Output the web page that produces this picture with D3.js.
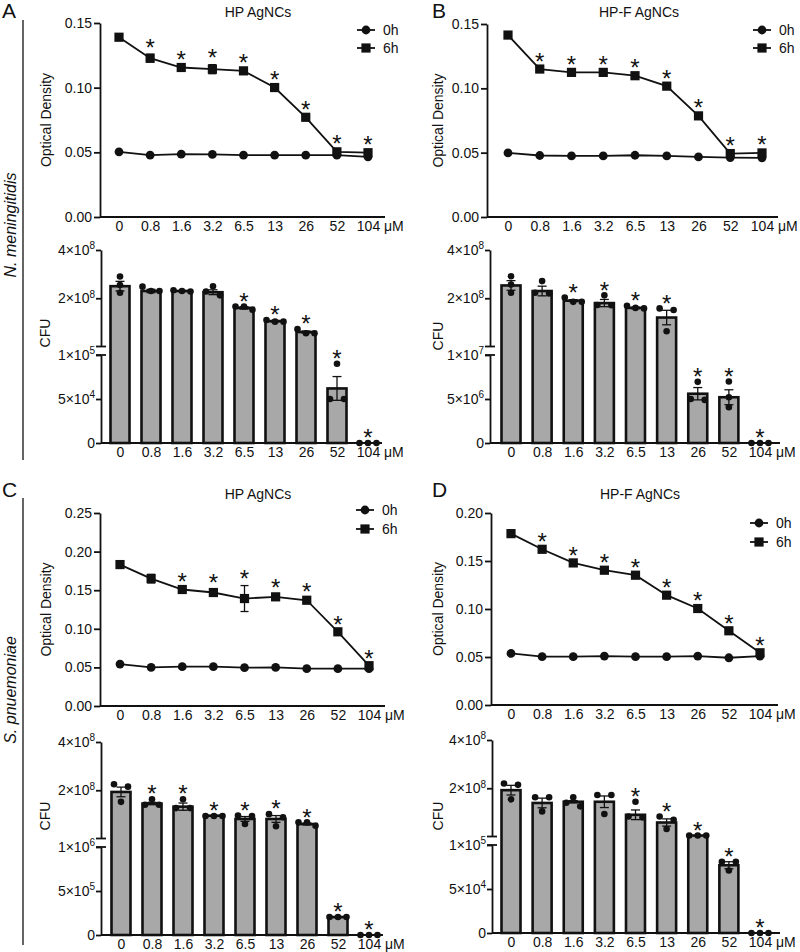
<!DOCTYPE html>
<html><head><meta charset="utf-8">
<script src="https://cdn.jsdelivr.net/npm/d3@7"></script>
<style>
body{margin:0;background:#fff}
svg{display:block}
text{font-family:"Liberation Sans",Arial,sans-serif;fill:#111}
</style>
</head><body>
<svg id="c" width="800" height="952"></svg>
<script>
// ---------- DATA ----------
const concentrations = ["0","0.8","1.6","3.2","6.5","13","26","52","104"];
const seriesNames = ["0h","6h"];

// Optical density (line charts)
const odA_0h = [0.0504,0.0478,0.0486,0.0484,0.0478,0.0478,0.0478,0.0478,0.0465];
const odA_6h = [0.1390,0.1228,0.1156,0.1143,0.1130,0.1001,0.0771,0.0504,0.0497];
const semA_6h = [0.001,0.003,0.0012,0.0035,0.0012,0.001,0.001,0.001,0.001];
const starsA_od = [0,1,1,1,1,1,1,1,1];

const odB_0h = [0.0498,0.0478,0.0475,0.0475,0.0480,0.0475,0.0467,0.0462,0.0460];
const odB_6h = [0.1414,0.1150,0.1124,0.1124,0.1098,0.1017,0.0786,0.0493,0.0498];
const semB_6h = [0.001,0.001,0.001,0.001,0.001,0.001,0.001,0.001,0.001];
const starsB_od = [0,1,1,1,1,1,1,1,1];

const odC_0h = [0.0543,0.0500,0.0509,0.0509,0.0496,0.0500,0.0483,0.0483,0.0483];
const odC_6h = [0.1832,0.1650,0.1509,0.1470,0.1392,0.1414,0.1370,0.0961,0.0522];
const semC_6h = [0.0035,0.0056,0.002,0.004,0.0168,0.003,0.002,0.001,0.001];
const starsC_od = [0,0,1,1,1,1,1,1,1];

const odD_0h = [0.0537,0.0503,0.0503,0.0510,0.0503,0.0503,0.0510,0.0492,0.0510];
const odD_6h = [0.1785,0.1622,0.1480,0.1404,0.1352,0.1144,0.1005,0.0773,0.0544];
const semD_6h = [0.001,0.001,0.001,0.001,0.001,0.001,0.001,0.001,0.001];
const starsD_od = [0,1,1,1,1,1,1,1,1];

const odMaxA = 0.15, odMaxB = 0.15, odMaxC = 0.25, odMaxD = 0.20;

// CFU (bar charts, broken axis)
const cfuA = [2.5e8,2.3e8,2.3e8,2.25e8,1.6e8,1.05e8,0.6e8,6.2e4,0];
const cfuSemA = [0.2e8,0.07e8,0.02e8,0.1e8,0.05e8,0.03e8,0.04e8,1.35e4,0];
const cfuDotsA = [[2.9e8,2.55e8,2.23e8],[2.48e8,2.3e8,2.3e8],[2.33e8,2.28e8,2.3e8],[2.5e8,2.12e8,2.28e8],[1.52e8,1.66e8,1.66e8],[1.1e8,1.03e8,1.03e8],[0.72e8,0.55e8,0.55e8],[9e4,5e4,5e4],[0,0,0]];
const cfuStarsA = [0,0,0,0,1,1,1,1,1];
const cfuBreakA = 1e5;

const cfuB = [2.53e8,2.3e8,1.9e8,1.8e8,1.6e8,1.2e8,5.6e6,5.2e6,0];
const cfuSemB = [0.2e8,0.2e8,0.04e8,0.15e8,0.03e8,0.3e8,0.7e6,0.85e6,0];
const cfuDotsB = [[2.91e8,2.57e8,2.23e8],[2.71e8,2.23e8,2.2e8],[2.03e8,1.85e8,1.85e8],[2.12e8,1.71e8,1.72e8],[1.69e8,1.58e8,1.6e8],[1.58e8,1.51e8,0.63e8],[6.95e6,5.0e6,4.9e6],[6.99e6,5.2e6,4.06e6],[0,0,0]];
const cfuStarsB = [0,0,1,1,1,1,1,1,1];
const cfuBreakB = 1e7;

const cfuC = [1.93e8,1.45e8,1.32e8,0.945e8,0.81e8,0.81e8,0.6e8,2.04e5,0];
const cfuSemC = [0.2e8,0.05e8,0.15e8,0.01e8,0.1e8,0.14e8,0.04e8,0.05e5,0];
const cfuDotsC = [[2.25e8,2.15e8,1.52e8],[1.63e8,1.4e8,1.4e8],[1.63e8,1.26e8,1.26e8],[0.93e8,0.93e8,0.93e8],[0.95e8,0.93e8,0.6e8],[1.01e8,0.88e8,0.51e8],[0.67e8,0.67e8,0.53e8],[2.05e5,2.05e5,2.05e5],[0,0,0]];
const cfuStarsC = [0,1,1,1,1,1,1,1,1];
const cfuBreakC = 1e6;

const cfuD = [1.92e8,1.39e8,1.44e8,1.44e8,0.9e8,0.58e8,0.04e8,7.7e4,0];
const cfuSemD = [0.2e8,0.2e8,0.05e8,0.24e8,0.2e8,0.15e8,0,0.4e4,0];
const cfuDotsD = [[2.2e8,2.14e8,1.54e8],[1.63e8,1.63e8,1.04e8],[1.63e8,1.25e8,1.4e8],[1.72e8,1.72e8,0.93e8],[1.44e8,0.83e8,0.79e8],[0.83e8,0.69e8,0.31e8],[0.04e8,0.04e8,0.04e8],[8.1e4,8.1e4,7.1e4],[0,0,0]];
const cfuStarsD = [0,0,0,0,1,1,1,1,1];
const cfuBreakD = 1e5;

const cfuTopMax = 4e8;
const panelLetters = ["A","B","C","D"];
const titles = ["HP AgNCs","HP-F AgNCs","HP AgNCs","HP-F AgNCs"];
const species = ["N. meningitidis","S. pnuemoniae"];
const unitLabel = "μM";

// ---------- DRAWING ----------
const svg = d3.select("#c");
const INK = "#111";
const FS = 14;

function styleAxis(s, w) {
  s.selectAll("path,line").attr("stroke", INK).attr("stroke-width", w || 1.8);
  s.selectAll("text").attr("font-size", FS).attr("fill", INK)
    .attr("font-family", '"Liberation Sans",Arial,sans-serif');
}

function star(g, cx, cy) {
  g.append("text").attr("x", cx).attr("y", cy + 13.8).attr("text-anchor","middle")
    .attr("font-size", 24).text("*");
}

function marker(g, shape, cx, cy) {
  if (shape === "circle") g.append("circle").attr("cx",cx).attr("cy",cy).attr("r",4.4).attr("fill",INK);
  else g.append("rect").attr("x",cx-4.6).attr("y",cy-4.6).attr("width",9.2).attr("height",9.2).attr("fill",INK);
}

function lineChart(L, od0, od6, sem6, stars, yMax) {
  const g = svg.append("g");
  const x = d3.scalePoint().domain(concentrations).range([L.x0, L.x1]);
  const y = d3.scaleLinear().domain([0, yMax]).range([L.yBot, L.yTop]);
  const ticks = d3.range(0, yMax + 1e-9, 0.05);
  g.append("g").attr("transform",`translate(${L.axisX},0)`)
    .call(d3.axisLeft(y).tickValues(ticks).tickFormat(d3.format(".2f")).tickSize(6).tickSizeOuter(0).tickPadding(2))
    .call(s => styleAxis(s));
  g.append("g").attr("transform",`translate(0,${L.yBot})`)
    .call(d3.axisBottom(x).tickSize(0).tickPadding(4))
    .call(s => s.select(".domain").remove())
    .call(s => styleAxis(s));
  g.append("line").attr("x1",L.axisX).attr("x2",L.axisEnd).attr("y1",L.yBot).attr("y2",L.yBot)
    .attr("stroke",INK).attr("stroke-width",1.8);
  g.append("text").attr("x",L.x1 + 16).attr("y",L.yBot+14).attr("font-size",FS).text(unitLabel);

  const line = d3.line().x((v,i)=>x(concentrations[i])).y(v=>y(v));
  [od0, od6].forEach(vals => {
    g.append("path").attr("d", line(vals)).attr("fill","none").attr("stroke",INK).attr("stroke-width",1.8);
  });
  od6.forEach((m,i) => {
    const s = sem6[i], cx = x(concentrations[i]);
    g.append("line").attr("x1",cx).attr("x2",cx).attr("y1",y(m-s)).attr("y2",y(m+s)).attr("stroke",INK).attr("stroke-width",1.3);
    [m-s, m+s].forEach(v => g.append("line").attr("x1",cx-4).attr("x2",cx+4).attr("y1",y(v)).attr("y2",y(v)).attr("stroke",INK).attr("stroke-width",1.3));
  });
  od0.forEach((v,i) => marker(g, "circle", x(concentrations[i]), y(v)));
  od6.forEach((v,i) => marker(g, "square", x(concentrations[i]), y(v)));
  od6.forEach((m,i) => { if (stars[i]) star(g, x(concentrations[i]), Math.min(y(m+sem6[i]), y(m)) - 12); });

  seriesNames.forEach((n,k) => {
    const ly = L.legendY[k];
    g.append("line").attr("x1",L.legendX-9).attr("x2",L.legendX+9).attr("y1",ly).attr("y2",ly).attr("stroke",INK).attr("stroke-width",1.8);
    marker(g, k===0?"circle":"square", L.legendX, ly);
    g.append("text").attr("x",L.legendX+17).attr("y",ly+5).attr("font-size",14).text(n);
  });
  g.append("text").attr("x",L.titleX).attr("y",L.titleY).attr("text-anchor","middle").attr("font-size",14).text(L.title);
  g.append("text").attr("transform",`translate(${L.labelX},${(L.yTop+L.yBot)/2}) rotate(-90)`)
    .attr("text-anchor","middle").attr("dy","0.35em").attr("font-size",14).text("Optical Density");
}

function sciLabel(sel) {
  sel.each(function(v){
    const t = d3.select(this); t.text(null);
    if (v === 0) { t.text("0"); return; }
    const e = Math.floor(Math.log10(v) + 1e-9);
    const m = Math.round(v / Math.pow(10, e));
    t.append("tspan").text(m + "×10");
    t.append("tspan").attr("dy","-0.55em").attr("font-size",10).text(e);
  });
}

function dotOffsets(ys) {
  const idx = ys.map((v,i)=>i).sort((a,b)=>ys[a]-ys[b]);
  const off = ys.map(()=>0);
  const groups = []; let cur = [idx[0]];
  for (let k=1;k<idx.length;k++) {
    if (ys[idx[k]] - ys[cur[cur.length-1]] < 5) cur.push(idx[k]);
    else { groups.push(cur); cur = [idx[k]]; }
  }
  groups.push(cur);
  groups.forEach(gr => {
    const n = gr.length, sp = n === 2 ? 14 : 8.5;
    gr.forEach((j,k) => off[j] = (k - (n-1)/2) * sp);
  });
  return off;
}

function barChart(L, means, sems, dots, stars, brk) {
  const g = svg.append("g");
  const x = d3.scalePoint().domain(concentrations).range([L.x0, L.x1]);
  const yT = d3.scaleLinear().domain([0, cfuTopMax]).range([L.yTop + 96.5, L.yTop]);
  const yB = d3.scaleLinear().domain([0, brk]).range([L.yBase, L.yBase - 88]);
  const y = v => v >= brk ? yT(v) : yB(v);

  means.forEach((m,i) => {
    if (m <= 0) return;
    const cx = x(concentrations[i]);
    g.append("rect").attr("x",cx-9.5).attr("y",y(m)).attr("width",19).attr("height",L.yBase-y(m))
      .attr("fill","#a8a8a8").attr("stroke",INK).attr("stroke-width",2.6);
  });
  means.forEach((m,i) => {
    const s = sems[i]; if (!s) return;
    const cx = x(concentrations[i]);
    g.append("line").attr("x1",cx).attr("x2",cx).attr("y1",y(m-s)).attr("y2",y(m+s)).attr("stroke",INK).attr("stroke-width",1.3);
    [m-s, m+s].forEach(v => g.append("line").attr("x1",cx-4.5).attr("x2",cx+4.5).attr("y1",y(v)).attr("y2",y(v)).attr("stroke",INK).attr("stroke-width",1.3));
  });
  g.append("g").attr("transform",`translate(${L.axisX},0)`)
    .call(d3.axisLeft(yT).tickValues([2e8, 4e8]).tickSize(5).tickSizeOuter(0).tickPadding(1))
    .call(s => styleAxis(s)).call(s => sciLabel(s.selectAll(".tick text")));
  g.append("g").attr("transform",`translate(${L.axisX},0)`)
    .call(d3.axisLeft(yB).tickValues([0, brk/2, brk]).tickSize(5).tickSizeOuter(0).tickPadding(1))
    .call(s => styleAxis(s)).call(s => sciLabel(s.selectAll(".tick text")));
  [yT(0), yB(brk)].forEach(by => g.append("line").attr("x1",L.axisX-5).attr("x2",L.axisX+5).attr("y1",by).attr("y2",by).attr("stroke",INK).attr("stroke-width",1.8));
  g.append("g").attr("transform",`translate(0,${L.yBase})`)
    .call(d3.axisBottom(x).tickSize(0).tickPadding(4))
    .call(s => s.select(".domain").remove())
    .call(s => styleAxis(s));
  g.append("line").attr("x1",L.axisX).attr("x2",L.axisEnd).attr("y1",L.yBase).attr("y2",L.yBase)
    .attr("stroke",INK).attr("stroke-width",1.8);
  g.append("text").attr("x",L.x1 + 16).attr("y",L.yBase+14).attr("font-size",FS).text(unitLabel);

  dots.forEach((ds,i) => {
    const cx = x(concentrations[i]);
    const ys = ds.map(y);
    const off = dotOffsets(ys);
    ys.forEach((yy,k) => g.append("circle").attr("cx",cx+off[k]).attr("cy",yy).attr("r",3.3).attr("fill",INK));
    if (stars[i]) {
      const top = Math.min(d3.min(ys), sems[i] ? y(means[i]+sems[i]) : y(means[i]));
      star(g, cx, top - 10.5);
    }
  });
  g.append("text").attr("transform",`translate(${L.labelX},${L.labelY}) rotate(-90)`)
    .attr("text-anchor","middle").attr("dy","0.35em").attr("font-size",14).text("CFU");
}

// ---------- LAYOUT ----------
lineChart({axisX:100,x0:119,x1:368,axisEnd:385,yTop:23,yBot:217,legendX:366,legendY:[30,48],titleX:258,titleY:17,title:titles[0],labelX:46},
  odA_0h, odA_6h, semA_6h, starsA_od, odMaxA);
lineChart({axisX:487,x0:508,x1:762,axisEnd:778,yTop:24,yBot:217,legendX:762,legendY:[30,48],titleX:639,titleY:17,title:titles[1],labelX:438},
  odB_0h, odB_6h, semB_6h, starsB_od, odMaxB);
lineChart({axisX:100,x0:120,x1:369,axisEnd:385,yTop:513,yBot:706,legendX:365,legendY:[510,529],titleX:258,titleY:499,title:titles[2],labelX:46},
  odC_0h, odC_6h, semC_6h, starsC_od, odMaxC);
lineChart({axisX:491,x0:511,x1:760,axisEnd:778,yTop:513,yBot:705,legendX:759,legendY:[523,542],titleX:640,titleY:499,title:titles[3],labelX:438},
  odD_0h, odD_6h, semD_6h, starsD_od, odMaxD);

barChart({axisX:101,x0:120,x1:368,axisEnd:382,yTop:250,yBase:443,labelX:45,labelY:333},
  cfuA, cfuSemA, cfuDotsA, cfuStarsA, cfuBreakA);
barChart({axisX:490,x0:511,x1:760,axisEnd:780,yTop:250,yBase:443,labelX:438,labelY:336},
  cfuB, cfuSemB, cfuDotsB, cfuStarsB, cfuBreakB);
barChart({axisX:101,x0:121,x1:369,axisEnd:383,yTop:742,yBase:935,labelX:45,labelY:816},
  cfuC, cfuSemC, cfuDotsC, cfuStarsC, cfuBreakC);
barChart({axisX:492,x0:511,x1:760,axisEnd:780,yTop:740,yBase:933,labelX:438,labelY:816},
  cfuD, cfuSemD, cfuDotsD, cfuStarsD, cfuBreakD);

[[2,18],[432,18],[2,497],[432,497]].forEach((p,i) =>
  svg.append("text").attr("x",p[0]).attr("y",p[1]).attr("font-size",21).text(panelLetters[i]));
[[20,460,225],[498,945,690]].forEach((b,i) => {
  svg.append("line").attr("x1",23).attr("x2",23).attr("y1",b[0]).attr("y2",b[1]).attr("stroke",INK).attr("stroke-width",1.3);
  svg.append("text").attr("transform",`translate(10,${b[2]}) rotate(-90)`).attr("text-anchor","middle")
    .attr("dy","0.35em").attr("font-size",16).attr("font-style","italic").text(species[i]);
});
</script>
</body></html>
